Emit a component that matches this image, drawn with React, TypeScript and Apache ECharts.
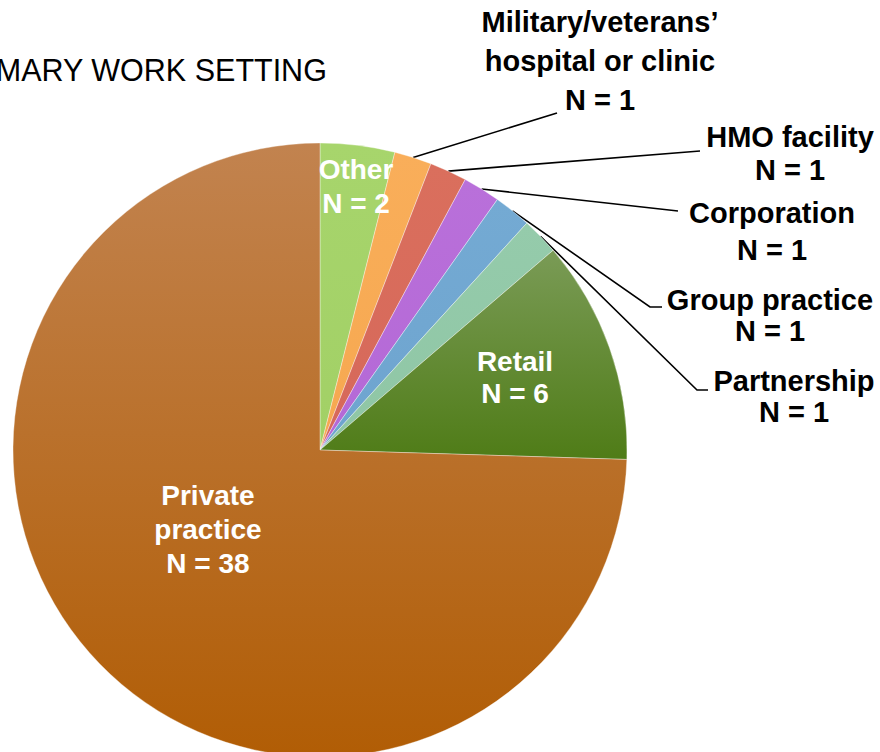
import React, { useEffect, useRef } from 'react';
import * as echarts from 'echarts';

// ---- data ----
const titleText = 'PRIMARY WORK SETTING';
const categories = [
  'Other',
  'Military/veterans’\nhospital or clinic',
  'HMO facility',
  'Corporation',
  'Group practice',
  'Partnership',
  'Retail',
  'Private\npractice',
];
const counts = [2, 1, 1, 1, 1, 1, 6, 38];

// ---- styling / layout ----
const sliceTop = ['#a7d56c', '#f9ae5a', '#da6f5d', '#b970da', '#74aad3', '#95cbab', '#7a9b56', '#c2834f'];
const sliceBottom = ['#a2d066', '#f6a850', '#d6685a', '#b468d6', '#6ea4cf', '#8fc6a5', '#4f7c17', '#b15d05'];
const labelInside = [true, false, false, false, false, false, true, true];
const labelCenters = [
  [356, 186],
  [600, 61],
  [790, 153],
  [772, 231],
  [770, 315],
  [794, 396],
  [515, 377],
  [208, 529],
];
const labelLineHeights = [34, 39, 33, 37, 31, 31, 32, 34];
const leaderEnds: (number[][] | null)[] = [
  null,
  [[557, 113]],
  [[700, 151]],
  [[678, 211]],
  [[650, 307], [662, 307]],
  [[697, 390], [708, 390]],
  null,
  null,
];

const FONT = "'Liberation Sans', Arial, Helvetica, sans-serif";

export default function App() {
  const ref = useRef<HTMLDivElement>(null);
  useEffect(() => {
    if (!ref.current) return;
    const chart = echarts.init(ref.current, null, { renderer: 'svg' });
    const data = categories.map((name, i) => ({
      name,
      value: counts[i],
      itemStyle: {
        color: new echarts.graphic.LinearGradient(0, 0, 0, 1, [
          { offset: 0, color: sliceTop[i] },
          { offset: 1, color: sliceBottom[i] },
        ]),
      },
      label: {
        position: labelInside[i] ? 'inside' : 'outside',
        color: labelInside[i] ? '#ffffff' : '#000000',
        fontSize: labelInside[i] ? 28 : 29,
        lineHeight: labelLineHeights[i],
      },
      labelLine: { show: !labelInside[i] },
    }));
    chart.setOption({
      animation: false,
      backgroundColor: '#ffffff',
      graphic: [
        {
          type: 'text',
          x: -55,
          y: 70,
          style: {
            text: titleText,
            font: `normal 30.5px ${FONT}`,
            fill: '#000000',
            verticalAlign: 'middle',
            align: 'left',
          },
        },
      ],
      series: [
        {
          type: 'pie',
          center: [320, 450],
          radius: 307,
          startAngle: 90,
          clockwise: true,
          avoidLabelOverlap: false,
          emphasis: { disabled: true },
          itemStyle: { borderColor: 'rgba(255,255,255,0.6)', borderWidth: 0.6 },
          label: {
            show: true,
            formatter: (p: any) => `${p.name}\nN = ${p.value}`,
            fontFamily: FONT,
            fontWeight: 'bold',
            fontSize: 28,
            align: 'center',
          },
          labelLine: {
            lineStyle: { color: '#000000', width: 1.6 },
            smooth: false,
          },
          labelLayout: (params: any) => {
            const i = params.dataIndex;
            const [x, y] = labelCenters[i];
            const res: any = { x, y, align: 'center', verticalAlign: 'middle' };
            const ends = leaderEnds[i];
            if (ends && params.labelLinePoints && params.labelLinePoints.length) {
              res.labelLinePoints = [params.labelLinePoints[0], ...ends];
            }
            return res;
          },
          data,
        },
      ],
    });
    return () => chart.dispose();
  }, []);
  return (
    <div
      ref={ref}
      style={{ position: 'absolute', left: 0, top: 0, width: 880, height: 752 }}
    />
  );
}
